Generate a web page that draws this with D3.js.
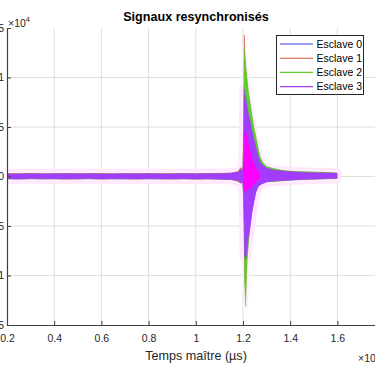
<!DOCTYPE html>
<html><head><meta charset="utf-8">
<script src="https://cdn.jsdelivr.net/npm/d3@7"></script>
<style>body{margin:0;background:#fff;} svg{display:block;font-family:"Liberation Sans",Arial,sans-serif;}</style>
</head><body><svg id="c" width="375" height="366"></svg>
<script>
// ---- data (time in units of 1e4 µs, amplitude in units of 1e4) ----
const seriesNames = ["Esclave 0", "Esclave 1", "Esclave 2", "Esclave 3"];
const xTickValues = [0.2, 0.4, 0.6, 0.8, 1.0, 1.2, 1.4, 1.6];
const xTickLabels = ["0.2", "0.4", "0.6", "0.8", "1", "1.2", "1.4", "1.6"];
const yTickValues = [-1.5, -1, -0.5, 0, 0.5, 1, 1.5];
const yTickLabels = ["-1.5", "-1", "-0.5", "0", "0.5", "1", "1.5"];

const times = [0.2,0.25,0.3,0.35,0.4,0.45,0.5,0.55,0.6,0.65,0.7,0.75,0.8,0.85,0.9,0.95,1.0,1.05,1.1,1.15,
  1.18,1.19,1.195,1.2,1.203,1.2055,1.2065,1.211,1.2165,1.222,1.231,1.2375,1.246,1.2545,1.263,1.272,1.285,1.3,1.33,1.37,1.42,1.47,1.52,1.56,1.598];

const baseUpper = [0.026,0.024,0.027,0.025,0.026,0.028,0.025,0.027,0.026,0.024,0.027,0.026,0.028,0.025,0.026,0.027,0.025,0.028,0.029,0.032];
const baseLower = [-0.022,-0.024,-0.021,-0.023,-0.022,-0.024,-0.023,-0.021,-0.024,-0.022,-0.023,-0.024,-0.022,-0.023,-0.024,-0.022,-0.025,-0.023,-0.026,-0.030];
const redBaseUpper = [0.030,0.028,0.031,0.027,0.029,0.030,0.028,0.029,0.030,0.027,0.029,0.028,0.030,0.028,0.029,0.030,0.028,0.030,0.031,0.034];

const esclave0Upper = baseUpper.concat([0.04,0.06,0.05,0.08,0.25,0.80,0.78,0.74,0.67,0.60,0.51,0.44,0.35,0.28,0.20,0.14,0.10,0.08,0.06,0.05,0.042,0.038,0.035,0.033,0.030]);
const esclave0Lower = baseLower.concat([-0.04,-0.06,-0.05,-0.075,-0.18,-0.50,-0.74,-0.78,-0.70,-0.58,-0.46,-0.34,-0.24,-0.15,-0.10,-0.08,-0.065,-0.052,-0.044,-0.038,-0.032,-0.026,-0.022,-0.020,-0.017]);
const esclave1Upper = redBaseUpper.concat([0.05,0.09,0.06,0.10,0.60,1.43,1.30,1.10,0.97,0.84,0.70,0.59,0.48,0.38,0.28,0.18,0.13,0.095,0.075,0.058,0.048,0.044,0.041,0.038,0.034]);
const esclave1Lower = baseLower.concat([-0.05,-0.07,-0.055,-0.08,-0.22,-0.50,-0.95,-1.15,-0.84,-0.68,-0.44,-0.30,-0.175,-0.115,-0.088,-0.075,-0.058,-0.05,-0.048,-0.041,-0.031,-0.026,-0.024,-0.021,-0.019]);
const esclave2Upper = baseUpper.concat([0.04,0.06,0.05,0.08,0.45,1.30,1.25,1.12,1.00,0.87,0.73,0.62,0.50,0.40,0.30,0.20,0.14,0.10,0.08,0.06,0.05,0.047,0.043,0.040,0.035]);
const esclave2Lower = baseLower.concat([-0.04,-0.06,-0.05,-0.08,-0.25,-0.60,-1.05,-1.31,-0.87,-0.70,-0.45,-0.31,-0.18,-0.12,-0.09,-0.08,-0.06,-0.05,-0.05,-0.042,-0.032,-0.027,-0.025,-0.022,-0.020]);
const esclave3Upper = baseUpper.concat([0.045,0.07,0.05,0.09,0.30,0.88,0.84,0.80,0.72,0.64,0.55,0.47,0.38,0.30,0.22,0.15,0.11,0.085,0.065,0.055,0.045,0.040,0.037,0.035,0.032]);
const esclave3Lower = baseLower.concat([-0.04,-0.065,-0.05,-0.08,-0.20,-0.55,-0.80,-0.84,-0.76,-0.62,-0.50,-0.37,-0.26,-0.16,-0.11,-0.085,-0.07,-0.055,-0.046,-0.04,-0.034,-0.028,-0.024,-0.021,-0.018]);

const coreTimes = [1.203,1.2055,1.2065,1.211,1.2165,1.222,1.231,1.2375,1.246,1.2545,1.263,1.272];
const coreUpper = [0.08,0.45,0.46,0.44,0.40,0.34,0.26,0.19,0.13,0.09,0.05,0.03];
const coreLower = [-0.08,-0.15,-0.15,-0.14,-0.14,-0.13,-0.12,-0.10,-0.08,-0.05,-0.03,-0.02];

const colors = ["#4040f0", "#d9573f", "#5ccf28", "#a23cff"];

// ---- chart ----
const svg = d3.select("#c");
const x = d3.scaleLinear().domain([0.2, 1.8]).range([7, 384.6]);
const y = d3.scaleLinear().domain([-1.5, 1.5]).range([325, 28]);

svg.append("defs").append("clipPath").attr("id", "clip")
  .append("rect").attr("x", 7.5).attr("y", 28).attr("width", 380).attr("height", 297);

// grid
const grid = svg.append("g");
grid.selectAll("line.v").data(xTickValues.slice(1).concat([1.8])).join("line")
  .attr("x1", d => x(d)).attr("x2", d => x(d)).attr("y1", y(1.5)).attr("y2", y(-1.5))
  .attr("stroke", "#dedede").attr("stroke-width", 1);
grid.selectAll("line.h").data(yTickValues.filter(v => v > -1.5 && v < 1.5)).join("line")
  .attr("x1", x(0.2)).attr("x2", 384.6).attr("y1", d => y(d)).attr("y2", d => y(d))
  .attr("stroke", "#dedede").attr("stroke-width", 1);

const series = [
  {up: esclave0Upper, lo: esclave0Lower},
  {up: esclave1Upper, lo: esclave1Lower},
  {up: esclave2Upper, lo: esclave2Lower},
  {up: esclave3Upper, lo: esclave3Lower}
];
const area = d3.area().x(d => x(d.t)).y0(d => y(d.lo)).y1(d => y(d.up));
const rows = s => times.map((t, i) => ({t, up: s.up[i], lo: s.lo[i]}));

const plot = svg.append("g").attr("clip-path", "url(#clip)");
// soft halo
plot.append("path").attr("d", area(rows(series[3])))
  .attr("fill", "#ffe8ff").attr("stroke", "#ffe8ff").attr("stroke-width", 10).attr("stroke-linejoin", "round");
plot.append("path").attr("d", area(rows(series[2])))
  .attr("fill", "#ffeeff").attr("stroke", "#ffeeff").attr("stroke-width", 5).attr("stroke-linejoin", "round");
series.forEach((s, k) => {
  plot.append("path").attr("d", area(rows(s)))
    .attr("fill", colors[k]).attr("stroke", colors[k]).attr("stroke-width", 0.5);
});
plot.append("path")
  .attr("d", area(coreTimes.map((t, i) => ({t, up: coreUpper[i], lo: coreLower[i]}))))
  .attr("fill", "#ff00ff").attr("stroke", "#ff00ff").attr("stroke-width", 0.5);

// axes
const axCol = "#404040";
const xAxis = svg.append("g").attr("transform", `translate(0,${y(-1.5)})`)
  .call(d3.axisBottom(x).tickValues(xTickValues).tickFormat((d, i) => xTickLabels[i])
    .tickSizeInner(-4).tickSizeOuter(0).tickPadding(10));
const yAxis = svg.append("g").attr("transform", `translate(${x(0.2)},0)`)
  .call(d3.axisLeft(y).tickValues(yTickValues).tickFormat((d, i) => yTickLabels[i])
    .tickSizeInner(-4).tickSizeOuter(0).tickPadding(3));
[xAxis, yAxis].forEach(a => {
  a.select(".domain").attr("stroke", axCol).attr("stroke-width", 1.2);
  a.selectAll(".tick line").attr("stroke", axCol);
  a.selectAll("text").attr("fill", "#262626").attr("font-size", 10.5)
    .attr("font-family", '"Liberation Sans",Arial,sans-serif');
});

// exponent labels
const e1 = svg.append("text").attr("x", 8).attr("y", 27).attr("font-size", 10.5).attr("fill", "#262626");
e1.append("tspan").text("×10");
e1.append("tspan").attr("dy", -5).attr("font-size", 7.5).text("4");
const e2 = svg.append("text").attr("x", 358).attr("y", 362).attr("font-size", 10.5).attr("fill", "#262626");
e2.append("tspan").text("×10");
e2.append("tspan").attr("dy", -5).attr("font-size", 7.5).text("4");

// title & label
svg.append("text").attr("x", 196).attr("y", 21).attr("text-anchor", "middle")
  .attr("font-weight", "bold").attr("font-size", 12.6).attr("fill", "#000").text("Signaux resynchronisés");
svg.append("text").attr("x", 196).attr("y", 360).attr("text-anchor", "middle")
  .attr("font-size", 12.6).attr("fill", "#262626").text("Temps maître (µs)");

// legend
const lg = svg.append("g");
lg.append("rect").attr("x", 276.5).attr("y", 35.5).attr("width", 87).attr("height", 59)
  .attr("fill", "#fff").attr("stroke", "#262626").attr("stroke-width", 1);
const ly = d3.scalePoint().domain(seriesNames).range([44, 86.7]);
seriesNames.forEach((n, k) => {
  lg.append("line").attr("x1", 280).attr("x2", 313).attr("y1", ly(n)).attr("y2", ly(n))
    .attr("stroke", colors[k]).attr("stroke-width", 1.2);
  lg.append("text").attr("x", 316.5).attr("y", ly(n)).attr("dy", "0.35em")
    .attr("font-size", 10.5).attr("fill", "#000").text(n);
});
</script></body></html>
